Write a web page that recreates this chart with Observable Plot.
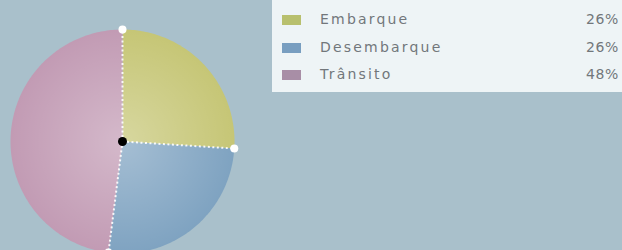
<!DOCTYPE html>
<html>
<head>
<meta charset="utf-8">
<script src="https://cdn.jsdelivr.net/npm/d3@7"></script>
<script src="https://cdn.jsdelivr.net/npm/@observablehq/plot@0.6"></script>
<style>
  html, body { margin: 0; padding: 0; }
  body { width: 622px; height: 250px; background: #a9c0cb; overflow: hidden; position: relative;
         font-family: "DejaVu Sans", sans-serif; }
  #chart { position: absolute; left: 0; top: 0; }
  #legend { position: absolute; left: 272px; top: 0; width: 350px; height: 92px; background: #eef4f6;
            box-sizing: border-box; padding-top: 12px; }
  .row { position: relative; height: 27.5px; font-size: 14px; letter-spacing: 2.2px; color: #72777b; }
  .sw { position: absolute; left: 10px; top: 3px; width: 19px; height: 10px; }
  .lab { position: absolute; left: 48px; top: -1px; }
  .pct { position: absolute; right: 3px; top: -1px; letter-spacing: 0.6px; }
</style>
</head>
<body>
<div id="chart"></div>
<div id="legend"></div>
<script>
const categories = ["Embarque", "Desembarque", "Trânsito"];
const shares = [26, 26, 48];
const pctLabels = ["26%", "26%", "48%"];
const sliceColors = ["#c6c676", "#7fa3c1", "#c29bb4"];
const swatchColors = ["#b8c06e", "#789ec0", "#a88ea6"];

const cx = 122, cy = 141, R = 112;

// Build slice outlines from the shares (angles clockwise from 12 o'clock)
const total = d3.sum(shares);
let acc = 0;
const slices = categories.map((name, i) => {
  const a0 = acc / total * 2 * Math.PI;
  acc += shares[i];
  const a1 = acc / total * 2 * Math.PI;
  return { name, a0, a1 };
});
const polyPts = [];
for (const s of slices) {
  polyPts.push({ name: s.name, x: 0, y: 0 });
  const n = Math.max(2, Math.ceil((s.a1 - s.a0) / (Math.PI / 180)));
  for (let k = 0; k <= n; k++) {
    const a = s.a0 + (s.a1 - s.a0) * k / n;
    polyPts.push({ name: s.name, x: Math.sin(a), y: Math.cos(a) });
  }
}
const rimPts = d3.range(0, 361).map(d => ({ x: Math.sin(d * Math.PI / 180), y: Math.cos(d * Math.PI / 180) }));
const boundaries = slices.map(s => ({ x: Math.sin(s.a0), y: Math.cos(s.a0) }));
const spokes = boundaries.map(b => ({ x1: 0, y1: 0, x2: b.x, y2: b.y }));

const plot = Plot.plot({
  width: 622,
  height: 250,
  margin: 0,
  x: { domain: [-1, 1], range: [cx - R, cx + R], axis: null },
  y: { domain: [-1, 1], range: [cy + R, cy - R], axis: null },
  color: { domain: categories, range: sliceColors },
  style: { background: "transparent", overflow: "visible" },
  marks: [
    Plot.line(polyPts, { x: "x", y: "y", z: "name", fill: "name", stroke: "none", curve: "linear" }),
    Plot.line(rimPts, { x: "x", y: "y", fill: "url(#shade)", stroke: "none" }),
    Plot.link(spokes, { x1: "x1", y1: "y1", x2: "x2", y2: "y2", stroke: "white", strokeWidth: 2, strokeDasharray: "2,2.5", strokeOpacity: 0.9 }),
    Plot.dot(boundaries, { x: "x", y: "y", r: 4, fill: "white", stroke: "none" }),
    Plot.dot([{ x: 0, y: 0 }], { x: "x", y: "y", r: 4.5, fill: "black", stroke: "none" })
  ]
});

const defs = d3.select(plot).insert("defs", ":first-child");
const g = defs.append("radialGradient").attr("id", "shade").attr("cx", "0.5").attr("cy", "0.5").attr("r", "0.5");
g.append("stop").attr("offset", "0%").attr("stop-color", "#ffffff").attr("stop-opacity", 0.3);
g.append("stop").attr("offset", "60%").attr("stop-color", "#ffffff").attr("stop-opacity", 0.12);
g.append("stop").attr("offset", "100%").attr("stop-color", "#ffffff").attr("stop-opacity", 0);

document.getElementById("chart").appendChild(plot);

const legend = d3.select("#legend");
categories.forEach((c, i) => {
  const row = legend.append("div").attr("class", "row");
  row.append("div").attr("class", "sw").style("background", swatchColors[i]);
  row.append("div").attr("class", "lab").text(c);
  row.append("div").attr("class", "pct").text(pctLabels[i]);
});
</script>
</body>
</html>
